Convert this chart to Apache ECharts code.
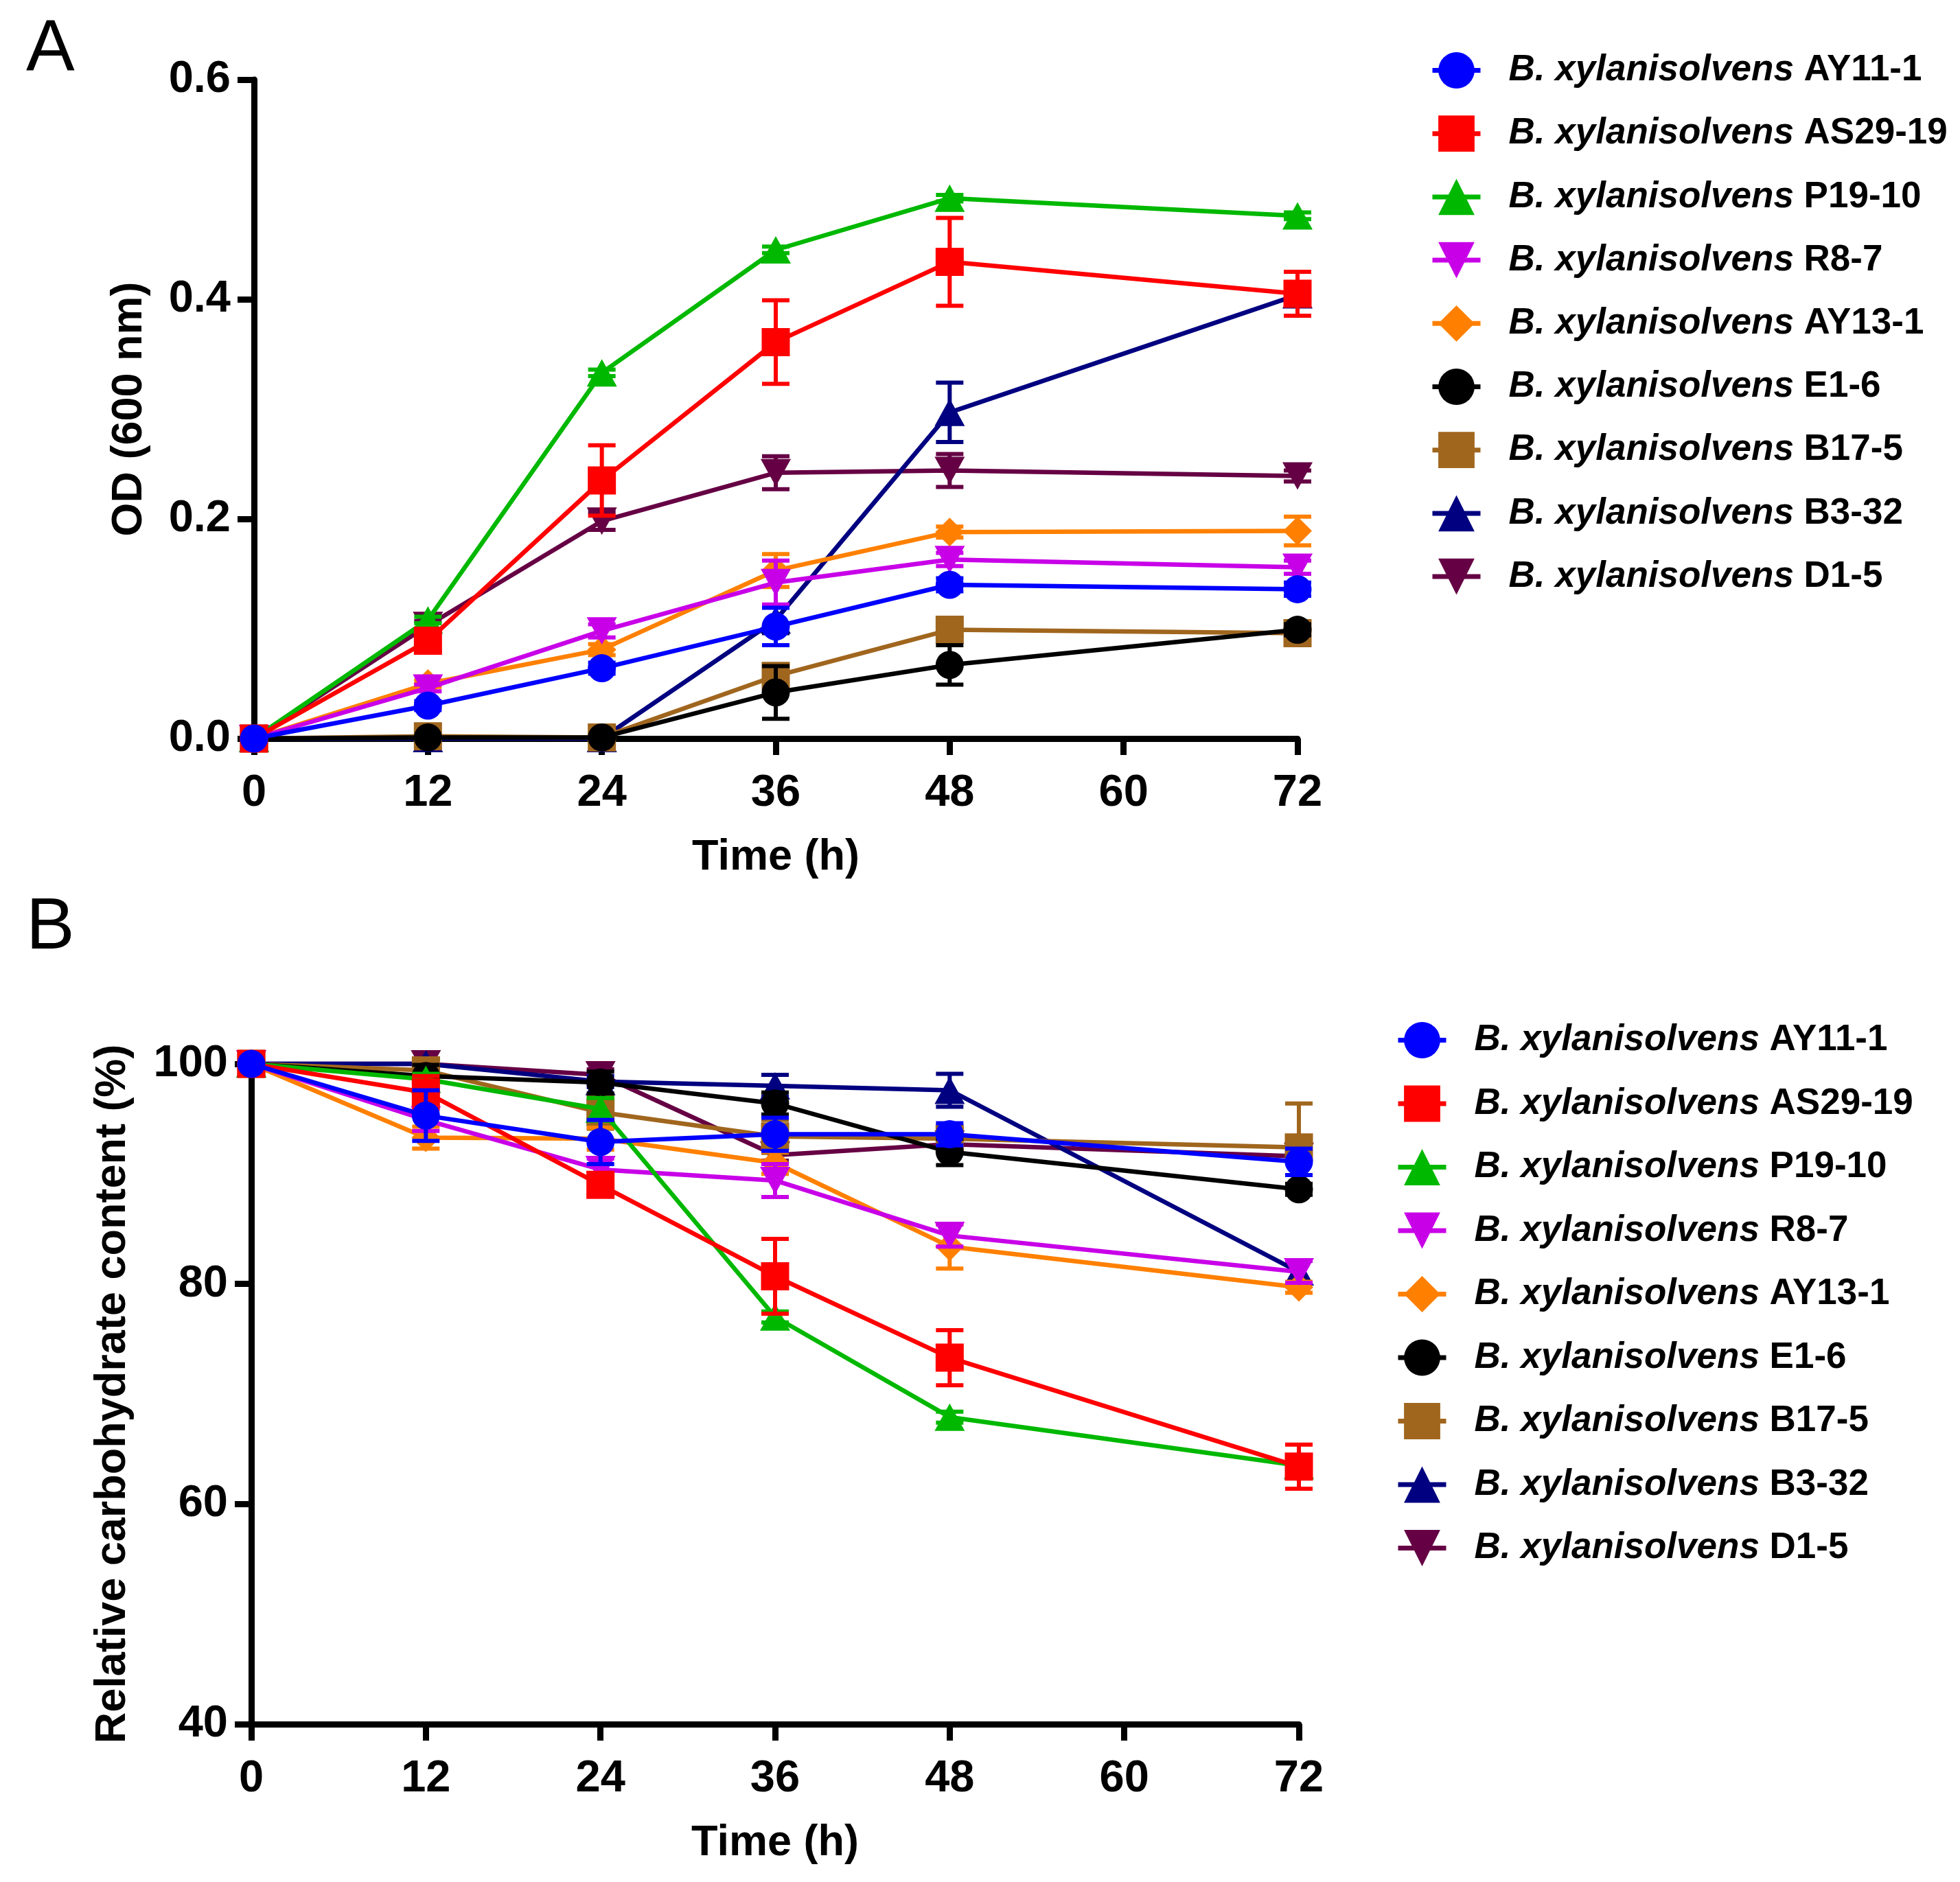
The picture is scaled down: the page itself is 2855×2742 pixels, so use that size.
<!DOCTYPE html>
<html><head><meta charset="utf-8">
<script src="https://cdn.jsdelivr.net/npm/echarts@6/dist/echarts.min.js"></script>
<style>html,body{margin:0;padding:0;background:#fff}#c{width:2855px;height:2742px}</style>
</head><body><div id="c"></div>
<script>
const times = [0, 12, 24, 36, 48, 72];
const xTicks = [0, 12, 24, 36, 48, 60, 72];
const strains = ['AY11-1', 'AS29-19', 'P19-10', 'R8-7', 'AY13-1', 'E1-6', 'B17-5', 'B3-32', 'D1-5'];
const colors = ['#0000FF', '#FF0000', '#00B800', '#C800E8', '#FF8000', '#000000', '#A0661E', '#000080', '#660044'];
const symbols = ['circle', 'rect', 'triangle', 'path://M0,0 L10,0 L5,9 Z', 'diamond', 'circle', 'rect', 'triangle', 'path://M0,0 L10,0 L5,9 Z'];

// Panel A: OD (600 nm)
const odAY11 = [0, 0.030, 0.064, 0.102, 0.140, 0.136];
const odAS29 = [0, 0.089, 0.235, 0.361, 0.434, 0.405];
const odP19  = [0, 0.108, 0.333, 0.445, 0.492, 0.476];
const odR8   = [0, 0.046, 0.098, 0.142, 0.163, 0.156];
const odAY13 = [0, 0.050, 0.081, 0.153, 0.188, 0.189];
const odE1   = [0, 0.001, 0.001, 0.042, 0.067, 0.099];
const odB17  = [0, 0.002, 0.001, 0.057, 0.099, 0.096];
const odB3   = [0, 0.000, 0.000, 0.108, 0.297, 0.404];
const odD1   = [0, 0.103, 0.198, 0.242, 0.244, 0.239];
const odErrAY11 = [0, 0.004, 0.005, 0.017, 0.006, 0.006];
const odErrAS29 = [0, 0.008, 0.032, 0.038, 0.040, 0.020];
const odErrP19  = [0, 0.003, 0.003, 0.003, 0.003, 0.003];
const odErrR8   = [0, 0.003, 0.006, 0.020, 0.006, 0.006];
const odErrAY13 = [0, 0.003, 0.005, 0.015, 0.005, 0.013];
const odErrE1   = [0, 0.000, 0.000, 0.024, 0.018, 0.005];
const odErrB17  = [0, 0.000, 0.000, 0.010, 0.006, 0.006];
const odErrB3   = [0, 0.000, 0.000, 0.012, 0.027, 0.010];
const odErrD1   = [0, 0.004, 0.008, 0.015, 0.015, 0.005];

// Panel B: relative carbohydrate content (%)
const chAY11 = [100, 95.3, 92.9, 93.6, 93.6, 91.1];
const chAS29 = [100, 97.4, 89.0, 80.7, 73.3, 63.4];
const chP19  = [100, 98.6, 95.9, 77.0, 67.9, 63.5];
const chR8   = [100, 94.9, 90.4, 89.4, 84.4, 81.1];
const chAY13 = [100, 93.3, 93.2, 91.0, 83.4, 79.7];
const chE1   = [100, 98.9, 98.3, 96.4, 92.0, 88.6];
const chB17  = [100, 99.4, 95.6, 93.4, 93.2, 92.4];
const chB3   = [100, 100, 98.4, 98.0, 97.6, 81.1];
const chD1   = [100, 100, 99.0, 91.7, 92.7, 91.6];
const chErrAY11 = [0, 2.3, 2.0, 1.5, 1.0, 1.2];
const chErrAS29 = [0, 1.5, 1.0, 3.4, 2.5, 2.0];
const chErrP19  = [0, 0.5, 1.0, 0.5, 0.5, 0.5];
const chErrR8   = [0, 1.0, 1.0, 1.5, 1.0, 1.0];
const chErrAY13 = [0, 1.0, 1.0, 1.0, 2.0, 0.5];
const chErrE1   = [0, 1.0, 1.0, 1.0, 1.2, 0.5];
const chErrB17  = [0, 1.0, 1.5, 1.5, 0.5, 4.0];
const chErrB3   = [0, 0.5, 0.5, 1.0, 1.5, 1.0];
const chErrD1   = [0, 0.5, 0.5, 0.5, 0.5, 0.5];

const odVals = [odAY11, odAS29, odP19, odR8, odAY13, odE1, odB17, odB3, odD1];
const odErrs = [odErrAY11, odErrAS29, odErrP19, odErrR8, odErrAY13, odErrE1, odErrB17, odErrB3, odErrD1];
const chVals = [chAY11, chAS29, chP19, chR8, chAY13, chE1, chB17, chB3, chD1];
const chErrs = [chErrAY11, chErrAS29, chErrP19, chErrR8, chErrAY13, chErrE1, chErrB17, chErrB3, chErrD1];

const FONT = '"Liberation Sans", Arial, Helvetica, sans-serif';
const names = strains.map(s => 'B. xylanisolvens ' + s);

function errSeries(i, vals, errs, gi) {
  const color = colors[i];
  return {
    type: 'custom', xAxisIndex: gi, yAxisIndex: gi, silent: true, z: 40 - 2 * i - 1, clip: false,
    data: times.map((t, k) => [t, vals[k] - errs[k], vals[k] + errs[k]]).filter((d, k) => errs[k] > 0),
    encode: { x: 0, y: [1, 2] },
    renderItem(params, api) {
      const x = api.value(0);
      const lo = api.coord([x, api.value(1)]);
      const hi = api.coord([x, api.value(2)]);
      const hw = 20;
      const st = { stroke: color, lineWidth: 6 };
      return { type: 'group', children: [
        { type: 'line', shape: { x1: lo[0], y1: lo[1], x2: hi[0], y2: hi[1] }, style: st },
        { type: 'line', shape: { x1: hi[0] - hw, y1: hi[1], x2: hi[0] + hw, y2: hi[1] }, style: st },
        { type: 'line', shape: { x1: lo[0] - hw, y1: lo[1], x2: lo[0] + hw, y2: lo[1] }, style: st }
      ]};
    }
  };
}

function lineSeries(i, vals, gi) {
  const isDiamond = symbols[i] === 'diamond';
  const isTri = symbols[i] === 'triangle' || symbols[i].startsWith('path');
  return {
    type: 'line', name: names[i], xAxisIndex: gi, yAxisIndex: gi, z: 40 - 2 * i, clip: false,
    data: times.map((t, k) => [t, vals[k]]),
    symbol: symbols[i], symbolSize: isDiamond ? 42 : (isTri ? [44, 40] : 41),
    lineStyle: { color: colors[i], width: 6.5 },
    itemStyle: { color: colors[i] },
    emphasis: { disabled: true }, animation: false
  };
}

const series = [];
for (let i = 0; i < 9; i++) {
  series.push(errSeries(i, odVals[i], odErrs[i], 0));
  series.push(lineSeries(i, odVals[i], 0));
}
for (let i = 0; i < 9; i++) {
  series.push(errSeries(i, chVals[i], chErrs[i], 1));
  series.push(lineSeries(i, chVals[i], 1));
}

function xAxisCfg(gi) {
  return {
    type: 'value', gridIndex: gi, min: 0, max: 72, interval: 12,
    name: 'Time (h)', nameLocation: 'middle', nameGap: 142,
    nameTextStyle: { fontFamily: FONT, fontWeight: 'bold', fontSize: 63, color: '#000' },
    axisLine: { show: true, onZero: false, lineStyle: { color: '#000', width: 9 } },
    axisTick: { show: true, inside: false, length: 24, lineStyle: { color: '#000', width: 9 } },
    axisLabel: { fontFamily: FONT, fontWeight: 'bold', fontSize: 65, color: '#000', margin: 48 },
    splitLine: { show: false }
  };
}
function yAxisCfg(gi, min, max, interval, name, gap, fmt) {
  return {
    type: 'value', gridIndex: gi, min, max, interval,
    name, nameLocation: 'middle', nameGap: gap, nameRotate: 90,
    nameTextStyle: { fontFamily: FONT, fontWeight: 'bold', fontSize: 63, color: '#000' },
    axisLine: { show: true, onZero: false, lineStyle: { color: '#000', width: 9 } },
    axisTick: { show: true, inside: false, length: 24, lineStyle: { color: '#000', width: 9 } },
    axisLabel: { fontFamily: FONT, fontWeight: 'bold', fontSize: 65, color: '#000', margin: 34, formatter: fmt },
    splitLine: { show: false }
  };
}

function legendCfg(left, top, gap) {
  return {
    left, top, orient: 'vertical', itemWidth: 70, itemHeight: 66, itemGap: gap,
    data: names, selectedMode: false,
    lineStyle: { width: 7 },
    formatter: n => n.replace('B. xylanisolvens', '{i|B. xylanisolvens}'),
    textStyle: {
      fontFamily: FONT, fontWeight: 'bold', fontSize: 53, color: '#000', lineHeight: 52,
      padding: [0, 0, 0, 36],
      rich: { i: { fontFamily: FONT, fontWeight: 'bold', fontStyle: 'italic', fontSize: 53, color: '#000', lineHeight: 52 } }
    }
  };
}

const chart = echarts.init(document.getElementById('c'), null, { renderer: 'canvas' });
chart.setOption({
  animation: false,
  backgroundColor: '#fff',
  grid: [
    { left: 370, top: 116, width: 1520, height: 960 },
    { left: 366, top: 1550, width: 1526, height: 962 }
  ],
  xAxis: [xAxisCfg(0), xAxisCfg(1)],
  yAxis: [
    yAxisCfg(0, 0, 0.6, 0.2, 'OD (600 nm)', 150, v => v.toFixed(1)),
    yAxisCfg(1, 40, 100, 20, 'Relative carbohydrate content (%)', 170, v => String(v))
  ],
  legend: [legendCfg(2078, 71, 39.2), legendCfg(2028, 1484, 39.5)],
  graphic: [
    { type: 'text', left: 38, top: 20, style: { text: 'A', fontFamily: FONT, fontSize: 106, fill: '#000' } },
    { type: 'text', left: 38, top: 1300, style: { text: 'B', fontFamily: FONT, fontSize: 106, fill: '#000' } }
  ],
  series
});
</script></body></html>
